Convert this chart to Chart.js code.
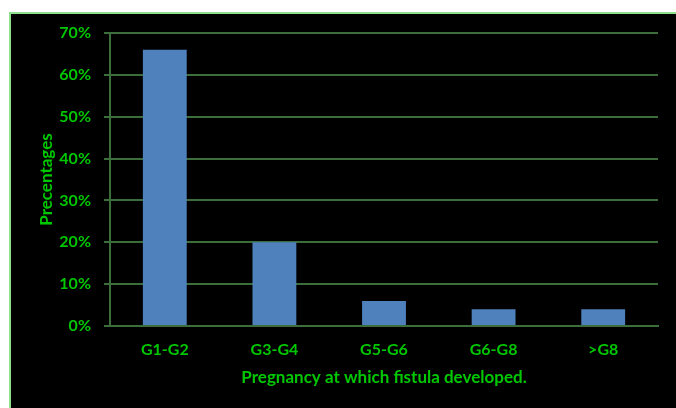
<!DOCTYPE html>
<html>
<head>
<meta charset="utf-8">
<script src="https://cdn.jsdelivr.net/npm/chart.js@4"></script>
<style>
  body { margin: 0; background: #fff; }
  #box {
    position: absolute; left: 9px; top: 12px; width: 700px; height: 420px;
    background: #000; border-top: 2px solid #8ee08e; border-left: 2px solid #8ee08e;
  }
  #chart { position: absolute; left: 0; top: 0; }
</style>
</head>
<body>
<div id="box"></div>
<canvas id="chart" width="676" height="408"></canvas>
<script>
const categories = ['G1-G2', 'G3-G4', 'G5-G6', 'G6-G8', '>G8'];
const percentages = [66, 20, 6, 4, 4];
const yTicks = [0, 10, 20, 30, 40, 50, 60, 70];

const verde = '#00c800';
const grade = '#3b6e3b';
const fonte = { family: 'Lato', weight: 'bold', size: 16 };
const fonteTitulo = { family: 'Lato', weight: 'bold', size: 17 };

const ctx = document.getElementById('chart').getContext('2d');

new Chart(ctx, {
    type: 'bar',
    data: {
        labels: categories,
        datasets: [{
            label: 'Percentages',
            data: percentages,
            backgroundColor: '#4f81bd',
            borderWidth: 0,
            barPercentage: 0.4,
            categoryPercentage: 1
        }]
    },
    options: {
        responsive: false,
        animation: false,
        layout: { padding: { left: 36, right: 18, top: 33, bottom: 20 } },
        plugins: {
            legend: { display: false },
            tooltip: { enabled: false }
        },
        scales: {
            y: {
                min: 0,
                max: 70,
                afterBuildTicks: (scale) => {
                    scale.ticks = yTicks.map(v => ({ value: v }));
                },
                afterFit: (scale) => { scale.width = 74; },
                ticks: {
                    color: verde,
                    font: fonte,
                    padding: 13,
                    callback: (v) => v + '%'
                },
                grid: { color: grade, lineWidth: 2, tickLength: 6 },
                border: { color: grade, width: 2 },
                title: {
                    display: true,
                    text: 'Precentages',
                    color: verde,
                    font: fonteTitulo,
                    padding: 0
                }
            },
            x: {
                afterFit: (scale) => { scale.height = 62; },
                ticks: { color: verde, font: fonte, padding: 6 },
                grid: { display: false },
                border: { color: grade, width: 2 },
                title: {
                    display: true,
                    text: 'Pregnancy at which fistula developed.',
                    color: verde,
                    font: fonteTitulo,
                    padding: 0
                }
            }
        }
    }
});
</script>
</body>
</html>
